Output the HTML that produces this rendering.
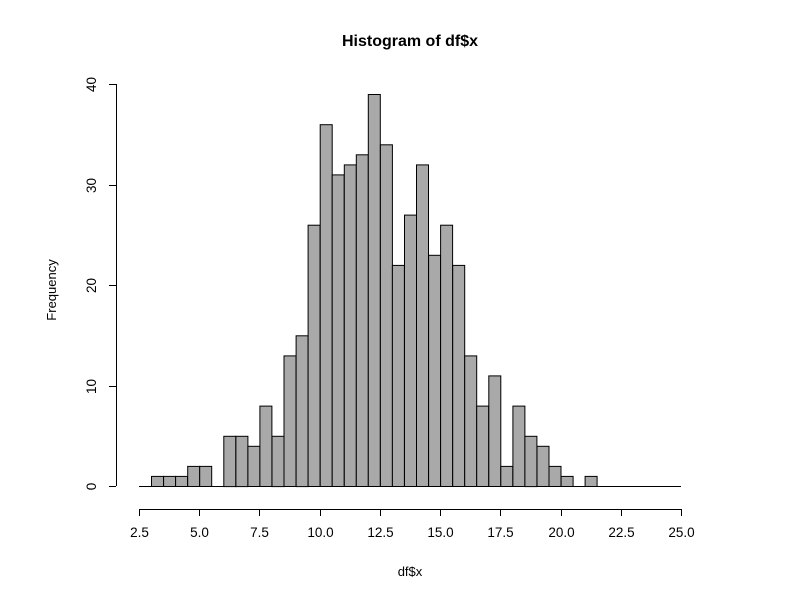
<!DOCTYPE html>
<html><head><meta charset="utf-8"><style>body{margin:0;background:#fff}svg{display:block}text{font-family:"Liberation Sans",sans-serif;fill:#000}</style></head>
<body>
<svg id="s" width="800" height="600" xmlns="http://www.w3.org/2000/svg">
<text x="410" y="46" font-size="16" font-weight="bold" text-anchor="middle">Histogram of df$x</text>
<text x="410" y="576" font-size="13" text-anchor="middle">df$x</text>
<text transform="translate(56,290) rotate(-90)" font-size="13" text-anchor="middle">Frequency</text>
<g id="bars" fill="#a9a9a9" stroke="#000" stroke-width="1"></g>
<g id="ax" stroke="#000" stroke-width="1" fill="none"></g>
<g id="lb" font-size="13.5"></g>
</svg>
<script>
var c=[1,1,1,2,2,0,5,5,4,8,5,13,15,26,36,31,32,33,39,34,22,27,32,23,26,22,13,8,11,2,8,5,4,2,1,0,1];
function X(v){return 139+(v-2.5)*542/22.5}function Y(n){return 486-n*10.05}
var b='',a='',l='';
b+='<line x1="139" y1="486.5" x2="681" y2="486.5"/>';
c.forEach(function(n,i){var x0=X(3+i*0.5),x1=X(3.5+i*0.5);if(n>0)b+='<rect x="'+(x0+0.5).toFixed(1)+'" y="'+(Y(n)+0.5).toFixed(1)+'" width="'+(x1-x0).toFixed(1)+'" height="'+(486-Y(n)).toFixed(1)+'"/>';});
a+='<line x1="139" y1="509.5" x2="681" y2="509.5"/>';
for(var v=2.5;v<=25.01;v+=2.5){var x=Math.round(X(v))+0.5;a+='<line x1="'+x+'" y1="509" x2="'+x+'" y2="516"/>';l+='<text x="'+x+'" y="537" text-anchor="middle">'+v.toFixed(1)+'</text>';}
a+='<line x1="116.5" y1="84" x2="116.5" y2="486"/>';
for(var n=0;n<=40;n+=10){var y=Math.round(Y(n))+0.5;a+='<line x1="109" y1="'+y+'" x2="116" y2="'+y+'"/>';l+='<text transform="translate(96,'+y+') rotate(-90)" text-anchor="middle">'+n+'</text>';}
document.getElementById('bars').innerHTML=b;document.getElementById('ax').innerHTML=a;document.getElementById('lb').innerHTML=l;
</script>
</body></html>
